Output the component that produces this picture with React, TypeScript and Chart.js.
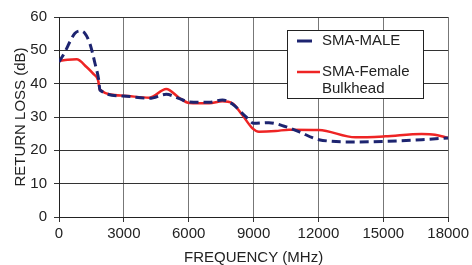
import React, { useEffect, useRef } from "react";
import { Chart, registerables } from "chart.js";

Chart.register(...registerables);

const maleFreq = [0, 276, 506, 737, 967, 1197, 1430, 1660, 1840, 1890, 2960, 4190, 4960, 5570, 6030, 6950, 7560, 8020, 8640, 9020, 9710, 10480, 11090, 12020, 13710, 15090, 16780, 18000];
const maleLoss = [46.5, 49.5, 52.6, 55.1, 55.8, 55.1, 52, 46.2, 41, 38.1, 36.3, 35.6, 36.8, 35.5, 34.5, 34.4, 35.1, 33.9, 30.1, 28.1, 28.3, 27.1, 25.6, 23.2, 22.5, 22.7, 23.2, 23.7];

const femaleFreq = [0, 400, 815, 1275, 1580, 1810, 1890, 2960, 4190, 4960, 5570, 6030, 6950, 7560, 8020, 8480, 8950, 9250, 10020, 10640, 12020, 13710, 15090, 16780, 17390, 18000];
const femaleLoss = [46.8, 47.2, 47.3, 45, 43, 41, 38.2, 36.4, 35.8, 38.4, 35.7, 34.2, 34.1, 34.7, 34.1, 30.6, 26.6, 25.6, 25.8, 26.2, 26.1, 23.9, 24.2, 24.9, 24.7, 23.7];

const seriesNames = ["SMA-MALE", "SMA-Female", "Bulkhead"];
const xTitle = "FREQUENCY (MHz)";
const yTitle = "RETURN LOSS (dB)";

const FONT = "'Liberation Sans', Arial, sans-serif";
const MALE_COLOR = "#1d2470";
const FEMALE_COLOR = "#ee2424";

const legendPlugin = {
  id: "customLegend",
  afterDraw(chart: any) {
    const { ctx, chartArea } = chart;
    const left = chartArea.left + 228;
    const top = chartArea.top + 13;
    ctx.save();
    ctx.fillStyle = "#ffffff";
    ctx.fillRect(left, top, 136, 68);
    ctx.strokeStyle = "#222";
    ctx.lineWidth = 1;
    ctx.strokeRect(left + 0.5, top + 0.5, 136, 68);

    ctx.strokeStyle = MALE_COLOR;
    ctx.lineWidth = 3;
    ctx.beginPath();
    ctx.moveTo(left + 10, top + 11);
    ctx.lineTo(left + 25, top + 11);
    ctx.stroke();

    ctx.strokeStyle = FEMALE_COLOR;
    ctx.lineWidth = 2.5;
    ctx.beginPath();
    ctx.moveTo(left + 10, top + 42);
    ctx.lineTo(left + 33, top + 42);
    ctx.stroke();

    ctx.fillStyle = "#222";
    ctx.font = `15px ${FONT}`;
    ctx.textBaseline = "middle";
    ctx.textAlign = "left";
    ctx.fillText(seriesNames[0], left + 35, top + 11);
    ctx.fillText(seriesNames[1], left + 35, top + 42);
    ctx.fillText(seriesNames[2], left + 35, top + 59);
    ctx.restore();
  },
};

export default function App() {
  const ref = useRef<HTMLCanvasElement>(null);
  useEffect(() => {
    if (!ref.current) return;
    const chart = new Chart(ref.current, {
      type: "line",
      data: {
        datasets: [
          {
            label: seriesNames[0],
            data: maleFreq.map((x, i) => ({ x, y: maleLoss[i] })),
            borderColor: MALE_COLOR,
            borderWidth: 3,
            borderDash: [9, 5],
            pointRadius: 0,
            cubicInterpolationMode: "monotone",
            fill: false,
          },
          {
            label: seriesNames[1] + " " + seriesNames[2],
            data: femaleFreq.map((x, i) => ({ x, y: femaleLoss[i] })),
            borderColor: FEMALE_COLOR,
            borderWidth: 2.5,
            pointRadius: 0,
            cubicInterpolationMode: "monotone",
            fill: false,
          },
        ],
      },
      options: {
        responsive: false,
        animation: false,
        layout: { padding: { top: 17, right: 22, left: 0, bottom: 0 } },
        plugins: { legend: { display: false }, tooltip: { enabled: false } },
        scales: {
          x: {
            type: "linear",
            min: 0,
            max: 18000,
            afterFit: (s: any) => { s.height = 48; },
            ticks: {
              stepSize: 3000,
              color: "#222",
              font: { family: FONT, size: 15 },
              padding: 3,
              maxRotation: 0,
              callback: (v: any) => String(v),
            },
            grid: { color: "#777", tickLength: 5, tickColor: "#333" },
            border: { color: "#222" },
            title: {
              display: true,
              text: xTitle,
              color: "#222",
              font: { family: FONT, size: 15, lineHeight: 1 },
              padding: { top: 0, bottom: 0 },
            },
          },
          y: {
            min: 0,
            max: 60,
            afterFit: (s: any) => { s.width = 59; },
            ticks: {
              stepSize: 10,
              color: "#222",
              font: { family: FONT, size: 15 },
              padding: 7,
            },
            grid: { color: "#333", tickLength: 5, tickColor: "#333" },
            border: { color: "#222" },
            title: {
              display: true,
              text: yTitle,
              color: "#222",
              font: { family: FONT, size: 15, lineHeight: 1.2 },
              padding: { top: 12, bottom: 0 },
            },
          },
        },
      },
      plugins: [legendPlugin],
    });
    return () => chart.destroy();
  }, []);
  return (
    <div style={{ position: "absolute", left: 0, top: 0, width: 472, height: 265, background: "#fff" }}>
      <canvas ref={ref} width={472} height={265} />
    </div>
  );
}
